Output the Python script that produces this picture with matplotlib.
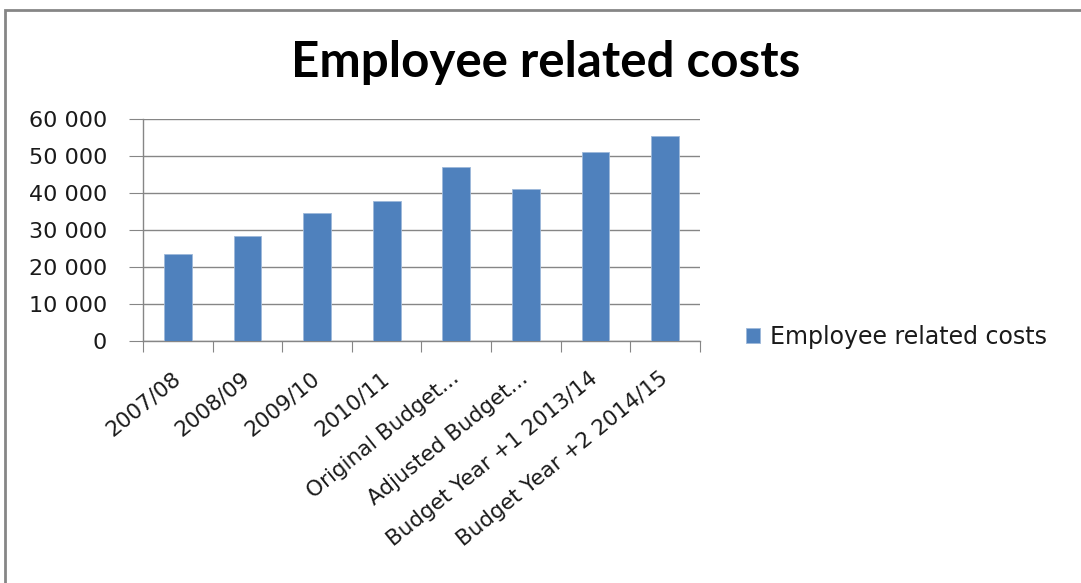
import numpy as np
import matplotlib.pyplot as plt
from matplotlib.patches import Rectangle
from matplotlib.ticker import FuncFormatter, FixedLocator
from matplotlib.transforms import ScaledTranslation

# Employee related costs per financial year
categories = ['2007/08', '2008/09', '2009/10', '2010/11',
              'Original Budget...', 'Adjusted Budget...',
              'Budget Year +1 2013/14', 'Budget Year +2 2014/15']
costs = [23600, 28500, 34700, 37900, 46900, 41000, 51100, 55300]
series_name = 'Employee related costs'

plt.rcParams['font.family'] = ['DejaVu Sans']
grey = '#868686'
txt = '#1a1a1a'

fig = plt.figure(figsize=(10.81, 5.83), dpi=100)
ax = fig.add_axes([0.1323, 0.4151, 0.5152, 0.3808])

x = np.arange(len(categories))
ax.bar(x, costs, width=0.4, color='#4F81BD', edgecolor='#9DB8DA',
       linewidth=0.6, label=series_name, zorder=3)

ax.set_xlim(-0.5, len(categories) - 0.5)
ax.set_ylim(0, 60000)
ax.set_yticks(np.arange(0, 60001, 10000))
ax.yaxis.set_major_formatter(FuncFormatter(lambda v, p: f'{int(v):,}'.replace(',', ' ')))
ax.grid(axis='y', color=grey, linewidth=1.0, zorder=0)

# category ticks sit between bars, labels at the bar centres
ax.xaxis.set_major_locator(FixedLocator(np.arange(-0.5, len(categories), 1.0)))
ax.xaxis.set_major_formatter(FuncFormatter(lambda v, p: ''))
ax.xaxis.set_minor_locator(FixedLocator(x))
ax.set_xticklabels(categories, minor=True, rotation=39, ha='right',
                   rotation_mode='anchor', va='center', fontsize=15.5, color=txt)
shift = ScaledTranslation(8 / 100, 0, fig.dpi_scale_trans)
for lab in ax.get_xticklabels(minor=True):
    lab.set_transform(lab.get_transform() + shift)
ax.tick_params(axis='x', which='major', length=8, color=grey, direction='out')
ax.tick_params(axis='x', which='minor', length=0, pad=25)
ax.tick_params(axis='y', length=10, color=grey, labelsize=16,
               labelcolor=txt, pad=16)

for side in ['top', 'right']:
    ax.spines[side].set_visible(False)
for side in ['left', 'bottom']:
    ax.spines[side].set_color(grey)
    ax.spines[side].set_linewidth(1.0)

fig.text(0.505, 0.893, 'Employee related costs', ha='center', va='center',
         fontsize=35.5, fontweight='bold', color='black', family='Lato')

ax.legend(loc='center left', bbox_to_anchor=(1.045, 0.02), frameon=False,
          fontsize=17, handlelength=0.6, handleheight=0.6, handletextpad=0.4,
          labelcolor=txt)

# chart area frame
fig.patches.append(Rectangle((5 / 1081, -0.1), 1.2, (576 - 5) / 583 + 0.1 + 0.003,
                             transform=fig.transFigure, fill=False,
                             edgecolor=grey, linewidth=2.0))

fig.savefig('out.png', dpi=100)
